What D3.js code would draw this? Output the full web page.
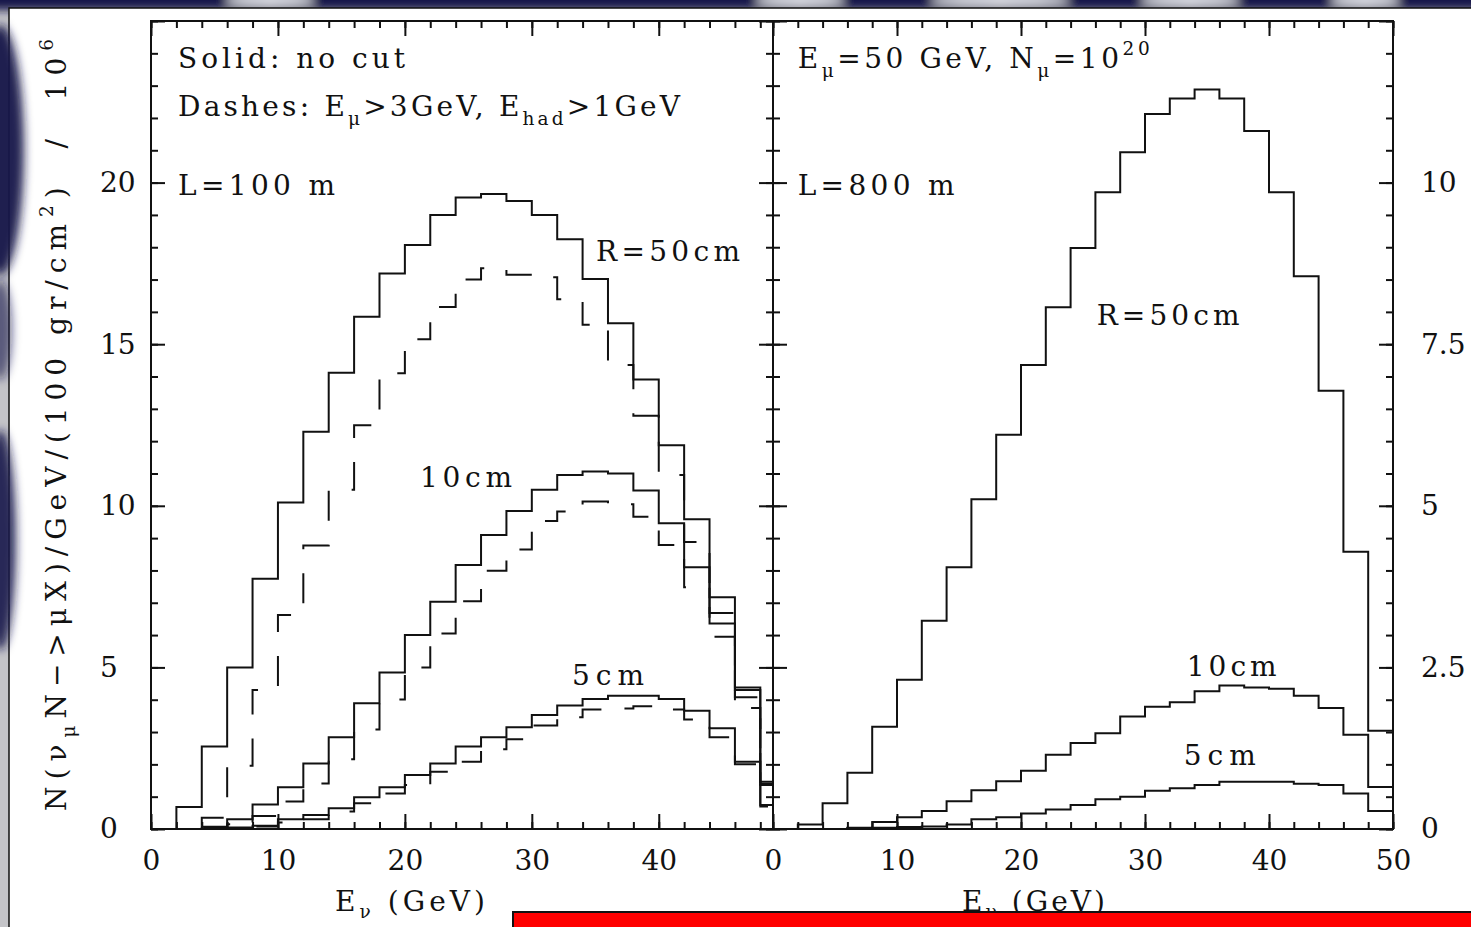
<!DOCTYPE html>
<html>
<head>
<meta charset="utf-8">
<script src="https://cdn.jsdelivr.net/npm/d3@7"></script>
<style>
body { margin: 0; background: #fff; }
svg { display: block; }
text { font-family: "DejaVu Serif", serif; fill: #111; }
</style>
</head>
<body>
<svg width="1471" height="927"></svg>
<script>
var width = 1471, height = 927;

// histogram bins are 2 GeV wide, these are the lower edges
var binEdges = d3.range(0, 50, 2);

// L = 100 m (left panel), 10^6 events / GeV
var near50 = [0, 0.68, 2.55, 5.0, 7.74, 10.1, 12.29, 14.12, 15.85, 17.19, 18.07, 19.0, 19.54,
              19.65, 19.43, 19.0, 18.25, 17.02, 15.65, 13.91, 11.87, 9.58, 7.17, 4.38, 1.46];
var near50cut = [0, 0, 0.35, 1.96, 4.3, 6.62, 8.77, 10.5, 12.49, 14.1, 15.15, 16.15, 17.0,
                 17.35, 17.15, 17.07, 16.39, 15.6, 14.36, 12.79, 10.95, 8.88, 6.68, 4.08, 1.36];
var near10 = [0, 0, 0.07, 0.3, 0.76, 1.29, 2.03, 2.84, 3.89, 4.84, 6.0, 7.03, 8.17,
              9.1, 9.84, 10.5, 10.95, 11.06, 11.0, 10.47, 9.46, 8.1, 6.36, 4.3, 1.4];
var near10cut = [0, 0, 0.03, 0.15, 0.4, 0.85, 1.41, 2.16, 3.08, 4.01, 5.0, 6.05, 7.05,
                 7.99, 8.65, 9.53, 9.82, 10.13, 10.05, 9.66, 8.79, 7.48, 5.95, 3.74, 1.3];
var near5 = [0, 0, 0.02, 0.05, 0.1, 0.3, 0.43, 0.64, 0.98, 1.29, 1.67, 2.03, 2.55,
             2.84, 3.15, 3.53, 3.82, 4.02, 4.12, 4.12, 4.02, 3.66, 3.12, 2.08, 0.74];
var near5cut = [0, 0, 0.01, 0.03, 0.08, 0.2, 0.3, 0.54, 0.8, 1.1, 1.36, 1.77, 2.08,
                2.47, 2.78, 3.2, 3.46, 3.7, 3.73, 3.8, 3.7, 3.39, 2.84, 2.0, 0.7];

// L = 800 m (right panel)
var far50 = [0, 0.07, 0.4, 0.87, 1.58, 2.31, 3.22, 4.05, 5.1, 6.1, 7.18, 8.07, 8.99,
             9.85, 10.47, 11.06, 11.3, 11.44, 11.3, 10.8, 9.85, 8.55, 6.78, 4.29, 1.52];
var far10 = [0, 0, 0, 0.02, 0.11, 0.18, 0.28, 0.43, 0.6, 0.74, 0.9, 1.15, 1.33,
             1.48, 1.74, 1.89, 1.96, 2.13, 2.22, 2.19, 2.17, 2.06, 1.87, 1.46, 0.65];
var far5 = [0, 0, 0, 0.01, 0.02, 0.03, 0.04, 0.07, 0.15, 0.18, 0.24, 0.3, 0.37,
            0.46, 0.5, 0.59, 0.63, 0.68, 0.73, 0.73, 0.73, 0.7, 0.68, 0.55, 0.28];

// tick values
var xMajorLeft = [0, 10, 20, 30, 40];
var xMajorRight = [0, 10, 20, 30, 40, 50];
var yMajorLeft = [0, 5, 10, 15, 20, 25];
var yMajorRight = [0, 2.5, 5, 7.5, 10, 12.5];

var fs = 28;
var svg = d3.select('svg');

// slide background around the white sheet
svg.append('rect').attr('width', width).attr('height', height).attr('fill', '#c4c4c8');
var defs = svg.append('defs');
defs.append('filter').attr('id', 'blur').attr('x', '-50%').attr('y', '-50%').attr('width', '200%').attr('height', '200%')
    .append('feGaussianBlur').attr('stdDeviation', 5);
var deco = svg.append('g').attr('filter', 'url(#blur)');
deco.append('rect').attr('x', -20).attr('y', -20).attr('width', width + 40).attr('height', 30).attr('fill', '#12134a');
[[270, 45], [800, 45], [1000, 70], [1190, 50], [1365, 35]].forEach(function(b) {
    deco.append('ellipse').attr('cx', b[0]).attr('cy', 0).attr('rx', b[1]).attr('ry', 5).attr('fill', '#eef0f6');
});
svg.append('rect').attr('x', 9).attr('y', 8).attr('width', width - 8).attr('height', height - 7)
    .attr('fill', 'white').attr('stroke', '#111').attr('stroke-width', 1.5);
// dark blotches bleeding in on the left edge: [cy, rx, ry, opacity]
var side = svg.append('g').attr('filter', 'url(#blur)');
[[150, 24, 125, 0.95], [330, 12, 50, 0.6], [540, 16, 110, 0.9]].forEach(function(b) {
    side.append('ellipse').attr('cx', 0).attr('cy', b[0]).attr('rx', b[1]).attr('ry', b[2])
        .attr('fill', '#14164a').attr('opacity', b[3]);
});

// scales
var xL = d3.scaleLinear().domain([0, 49]).range([151, 773]);
var yL = d3.scaleLinear().domain([0, 25]).range([829, 21]);
var xR = d3.scaleLinear().domain([0, 50]).range([773, 1393]);
var yR = d3.scaleLinear().domain([0, 12.5]).range([829, 21]);

svg.append('clipPath').attr('id', 'clipL').append('rect')
    .attr('x', 151).attr('y', 21).attr('width', 622).attr('height', 808);

function stepPoints(vals) {
    var pts = vals.map(function(v, i) { return [binEdges[i], v]; });
    pts.push([binEdges[binEdges.length - 1] + 2, 0]);
    return pts;
}

function drawHist(g, xs, ys, vals, dashed) {
    var line = d3.line()
        .x(function(d) { return xs(d[0]); })
        .y(function(d) { return ys(d[1]); })
        .curve(d3.curveStepAfter);
    g.append('path')
        .attr('d', line(stepPoints(vals)))
        .attr('fill', 'none')
        .attr('stroke', '#111')
        .attr('stroke-width', 2)
        .attr('stroke-dasharray', dashed ? '30,24' : null);
}

// axes: minor + major ticks pointing into each frame
function ticks(axis, values, size, labels) {
    return axis.tickValues(values).tickSize(size)
        .tickFormat(labels ? function(d) { return d; } : '');
}

function styleAxis(g) {
    g.select('.domain').remove();
    g.attr('font-size', fs).attr('font-family', null);
    g.selectAll('line').attr('stroke', '#111').attr('stroke-width', 2);
}

function panel(xs, ys, xMinor, xMajor, yMinor, yMajor, x0, x1) {
    var g = svg.append('g');
    g.append('g').attr('transform', 'translate(0,829)')
        .call(ticks(d3.axisBottom(xs), xMinor, -7, false)).call(styleAxis);
    g.append('g').attr('transform', 'translate(0,829)')
        .call(ticks(d3.axisBottom(xs), xMajor, -15, true).tickPadding(21)).call(styleAxis);
    g.append('g').attr('transform', 'translate(0,21)')
        .call(ticks(d3.axisTop(xs), xMinor, -7, false)).call(styleAxis);
    g.append('g').attr('transform', 'translate(0,21)')
        .call(ticks(d3.axisTop(xs), xMajor, -15, false)).call(styleAxis);
    [[x0, -1], [x1, 1]].forEach(function(s) {
        var ax = s[1] < 0 ? d3.axisLeft(ys) : d3.axisRight(ys);
        g.append('g').attr('transform', 'translate(' + s[0] + ',0)')
            .call(ticks(ax, yMinor, -7, false)).call(styleAxis);
        g.append('g').attr('transform', 'translate(' + s[0] + ',0)')
            .call(ticks(ax, yMajor, -14, false)).call(styleAxis);
    });
    g.append('rect').attr('x', x0).attr('y', 21).attr('width', x1 - x0).attr('height', 808)
        .attr('fill', 'none').attr('stroke', '#111').attr('stroke-width', 2);
    return g;
}

panel(xL, yL, d3.range(0, 49, 2), xMajorLeft, d3.range(0, 26, 1), yMajorLeft, 151, 773);
panel(xR, yR, d3.range(0, 51, 2), xMajorRight, d3.range(0, 12.6, 0.5), yMajorRight, 773, 1393);

// y tick labels
svg.append('g').attr('transform', 'translate(151,0)')
    .call(ticks(d3.axisLeft(yL), yMajorLeft.slice(0, 5), 0, true))
    .call(styleAxis)
    .selectAll('text').attr('text-anchor', 'start').attr('x', -51);
svg.append('g').attr('transform', 'translate(1393,0)')
    .call(ticks(d3.axisRight(yR), yMajorRight.slice(0, 5), 0, true).tickPadding(28))
    .call(styleAxis);

// histograms
var gL = svg.append('g').attr('clip-path', 'url(#clipL)');
[[near50, false], [near50cut, true], [near10, false], [near10cut, true], [near5, false], [near5cut, true]]
    .forEach(function(s) { drawHist(gL, xL, yL, s[0], s[1]); });
var gR = svg.append('g');
[far50, far10, far5].forEach(function(s) { drawHist(gR, xR, yR, s, false); });

// text with sub/superscripts: parts = [[string, 'sub'|'sup'|null], ...]
function rich(t, parts, size, subShift) {
    var shift = 0;
    parts.forEach(function(p) {
        var target = p[1] == 'sub' ? (subShift || 0.32) * size : p[1] == 'sup' ? -0.48 * size : 0;
        var ts = t.append('tspan').text(p[0]).attr('dy', target - shift);
        if (p[1]) ts.attr('font-size', size * 0.66);
        shift = target;
    });
    return t;
}

function note(xs, ys, gx, gy, parts, len) {
    var t = svg.append('text').attr('x', xs(gx)).attr('y', ys(gy))
        .attr('font-size', fs).style('white-space', 'pre');
    rich(t, parts, fs);
    if (len) t.attr('textLength', len).attr('lengthAdjust', 'spacing');
}

note(xL, yL, 2.13, 23.55, [['Solid: no cut']], 227);
note(xL, yL, 2.13, 22.06, [['Dashes: E'], ['\u03bc', 'sub'], ['>3GeV, E'], ['had', 'sub'], ['>1GeV']], 502);
note(xL, yL, 2.13, 19.62, [['L=100 m']], 157);
note(xL, yL, 35.06, 17.57, [['R=50cm']], 144);
note(xL, yL, 21.19, 10.58, [['10cm']], 92);
note(xL, yL, 33.17, 4.46, [['5cm']], 72);

note(xR, yR, 1.99, 11.77, [['E'], ['\u03bc', 'sub'], ['=50 GeV, N'], ['\u03bc', 'sub'], ['=10'], ['20', 'sup']], 352);
note(xR, yR, 1.99, 9.81, [['L=800 m']], 157);
note(xR, yR, 26.1, 7.8, [['R=50cm']], 143);
note(xR, yR, 33.36, 2.37, [['10cm']], 90);
note(xR, yR, 33.12, 0.99, [['5cm']], 72);

// axis titles (the right one sits under the red bar, as on the slide)
[[335, 150], [962, 143]].forEach(function(a) {
    var t = svg.append('text').attr('x', a[0]).attr('y', 911).attr('font-size', fs).style('white-space', 'pre');
    rich(t, [['E'], ['\u03bd', 'sub'], [' (GeV)']], fs, 0.24);
    t.attr('textLength', a[1]).attr('lengthAdjust', 'spacing');
});

var yt = svg.append('text')
    .attr('transform', 'translate(66,425) rotate(-90)')
    .attr('text-anchor', 'middle')
    .attr('font-size', 28)
    .style('white-space', 'pre');
rich(yt, [['N(\u03bd'], ['\u03bc', 'sub'], ['N\u2212>\u03bcX)/GeV/(100 gr/cm'], ['2', 'sup'], [')  /  10'], ['6', 'sup']], 28);
yt.attr('textLength', 772).attr('lengthAdjust', 'spacing');

// red bar at the bottom of the slide
svg.append('rect').attr('x', 513).attr('y', 912).attr('width', 970).attr('height', 30)
    .attr('fill', '#ff0000').attr('stroke', '#111').attr('stroke-width', 2);
</script>
</body>
</html>
